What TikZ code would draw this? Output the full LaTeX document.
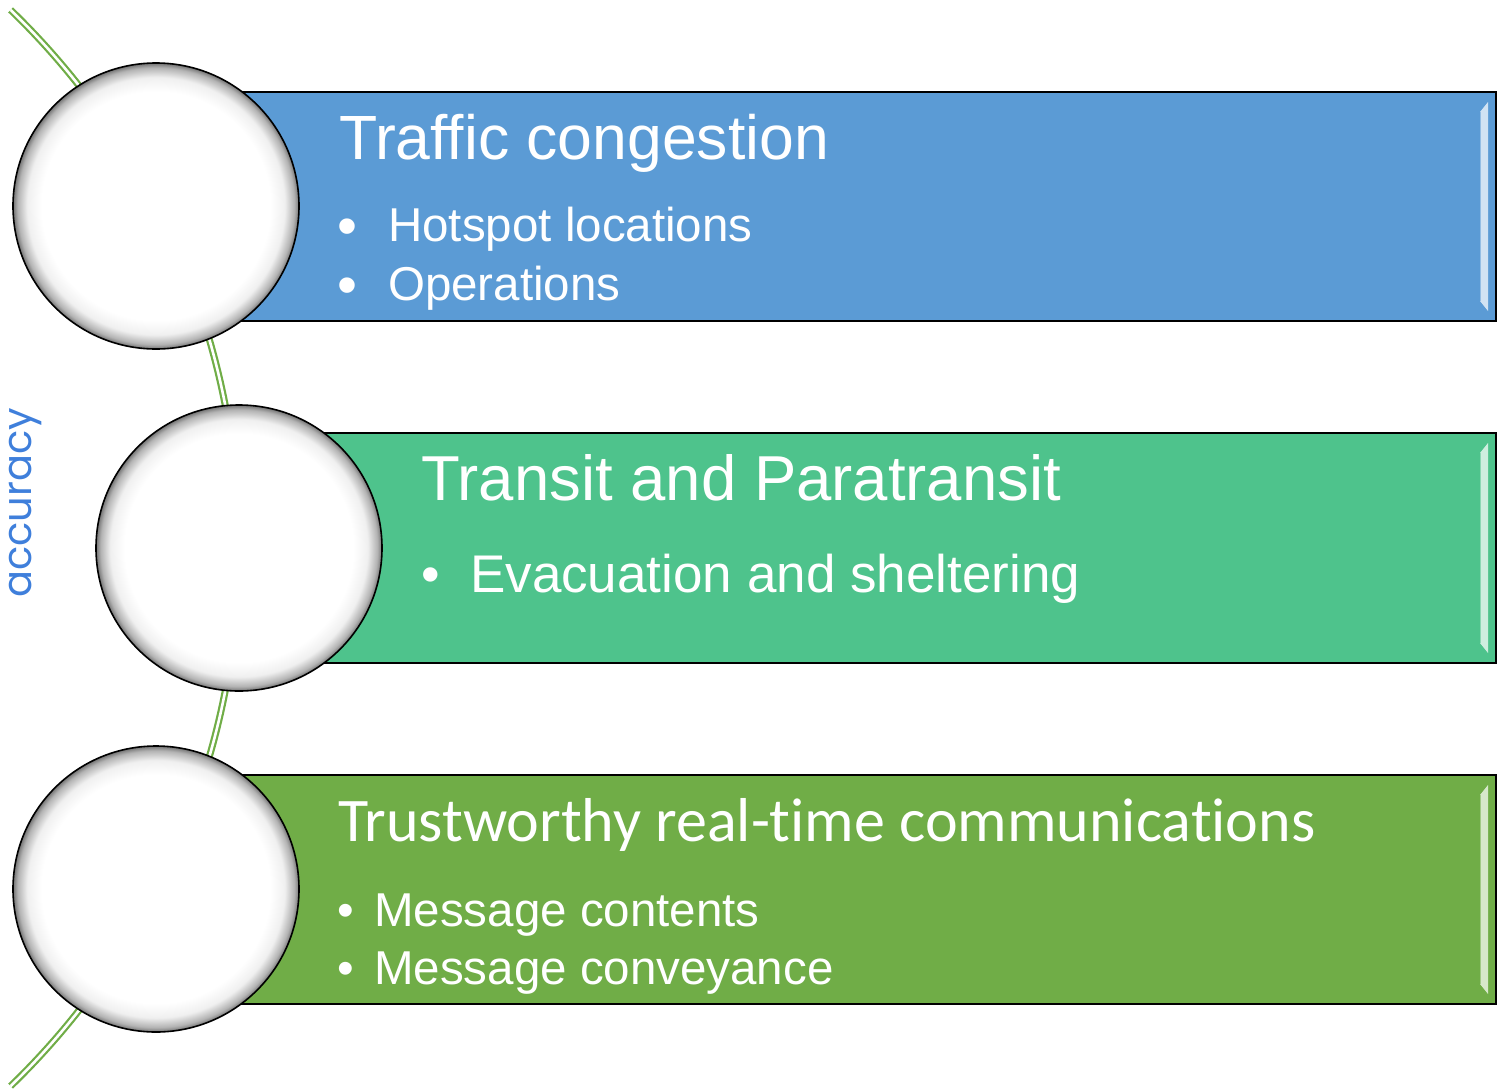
\documentclass[tikz,border=0pt]{standalone}
\usepackage{fontspec}
\setmainfont{Liberation Sans}
\newfontfamily\calibrifont[Ligatures=NoCommon]{Carlito}
\newfontfamily\gothicfont{Poppins}
\usepackage{tikz}
\usetikzlibrary{calc}
\definecolor{trafficblue}{HTML}{5B9BD5}
\definecolor{transitgreen}{HTML}{4EC38C}
\definecolor{trustgreen}{HTML}{70AD47}
\definecolor{accblue}{HTML}{3F7FDB}
\pgfdeclareradialshading{glossy}{\pgfpoint{0bp}{0bp}}{color(0bp)=(white); color(20bp)=(white); color(22.5bp)=(black!6); color(24.2bp)=(black!30); color(25bp)=(black!55); color(50bp)=(black!55)}
\tikzset{
  stripe/.style={draw=black, line width=1.6pt, fill=#1},
  disc/.style={circle, draw=black, line width=1.6pt, shading=glossy, minimum size=286pt, inner sep=0pt},
  heading/.style={anchor=base west, inner sep=0pt, text=white, font=\fontsize{62.5}{70}\selectfont},
  entry/.style={anchor=base west, inner sep=0pt, text=white, font=\fontsize{47.5}{54}\selectfont},
}
\newcommand{\bevel}[3]{% right-hand highlight of a stripe
  \fill[white!72!#1] (1480, #2+20) -- (1488, #2+10) -- (1488, #3-10) -- (1480, #3-20) -- cycle;
  \draw[white!35!#1, line width=1pt] (1480, #2+20) -- (1480, #3-20);
}
\newcommand{\bigdot}{\raisebox{-4pt}{\fontsize{57}{57}\selectfont\textbullet}}

\begin{document}
\begin{tikzpicture}[x=1pt, y=-1pt]
    \useasboundingbox (0, 0) rectangle (1498, 1090);
    % the curve behind the discs
    \draw[trustgreen, line width=7pt] (-509, 548) ++(-46:748) arc (-46:46:748);
    \draw[white, line width=2.6pt] (-509, 548) ++(-46:748) arc (-46:46:748);
    % stripes
    \draw[stripe=trafficblue] (240, 92) rectangle (1496, 321);
    \draw[stripe=transitgreen] (320, 433) rectangle (1496, 663);
    \draw[stripe=trustgreen] (240, 775) rectangle (1496, 1004);
    \bevel{trafficblue}{92}{321}
    \bevel{transitgreen}{433}{663}
    \bevel{trustgreen}{775}{1004}
    % discs
    \node[disc] (d1) at (156, 206) {};
    \node[disc] (d2) at (239, 548) {};
    \node[disc] (d3) at (156, 889) {};
    % texts
    \node[heading] (t1) at (339, 159) {Traffic congestion};
    \node[entry] (t1a) at (337, 241) {\makebox[51pt][l]{\bigdot}Hotspot locations};
    \node[entry] (t1b) at (337, 300) {\makebox[51pt][l]{\bigdot}Operations};
    \node[heading, font=\fontsize{63.5}{70}\selectfont] (t2) at (421, 500) {Transit and Paratransit};
    \node[entry, font=\fontsize{53}{60}\selectfont] (t2a) at (421, 592) {\makebox[49pt][l]{\textbullet}Evacuation and sheltering};
    \node[heading, font=\calibrifont\fontsize{62}{70}\selectfont] (t3) at (338, 841) {Trustworthy real-time communications};
    \node[entry] (t3a) at (337, 926) {\makebox[37pt][l]{\textbullet}Message contents};
    \node[entry] (t3b) at (337, 984) {\makebox[37pt][l]{\textbullet}Message conveyance};
    \node[rotate=90, text=accblue, font=\gothicfont\fontsize{40}{46}\selectfont, inner sep=0pt] (acc) at (25, 503) {accuracy};
\end{tikzpicture}
\end{document}
